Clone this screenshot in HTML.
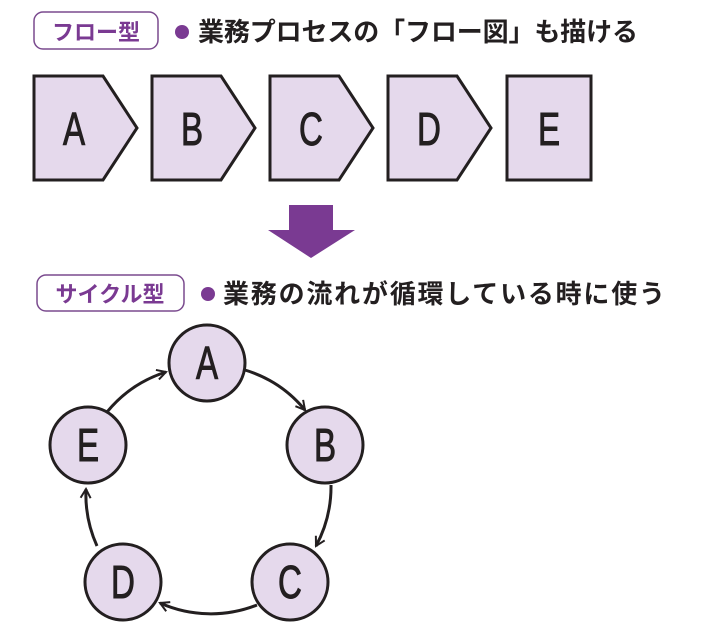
<!DOCTYPE html>
<html><head><meta charset="utf-8"><style>
body{margin:0;background:#fff;width:707px;height:632px;overflow:hidden;font-family:"Liberation Sans","Noto Sans CJK JP",sans-serif}
</style></head><body>
<svg width="707" height="632" xmlns="http://www.w3.org/2000/svg" font-family="Liberation Sans, Noto Sans CJK JP, sans-serif">
<defs>
<marker id="m" viewBox="0 0 12 12" refX="10" refY="6" markerWidth="12" markerHeight="12" markerUnits="userSpaceOnUse" orient="auto">
<path d="M1,1 L10,6 L1,11" fill="none" stroke="#231f20" stroke-width="2"/>
</marker>
</defs>
<rect x="34" y="12" width="124" height="37" rx="9" fill="#fff" stroke="#7a4a8e" stroke-width="1.5"/>
<text x="96" y="40" text-anchor="middle" font-size="22" font-weight="bold" fill="#7a3a92">フロー型</text>
<circle cx="182" cy="32" r="7" fill="#7a3a92"/>
<text x="198" y="41" font-size="26" font-weight="bold" fill="#231f20" textLength="440">業務プロセスの「フロー図」も描ける</text>
<g fill="#e5d9ec" stroke="#231f20" stroke-width="3">
<path d="M34,76 H103 L137,128 L103,180 H34 Z"/>
<path d="M152,76 H221 L255,128 L221,180 H152 Z"/>
<path d="M270,76 H339 L373,128 L339,180 H270 Z"/>
<path d="M388,76 H457 L491,128 L457,180 H388 Z"/>
<rect x="507" y="76" width="84" height="104"/>
</g>
<g font-size="46" fill="#231f20" text-anchor="middle" stroke="#231f20" stroke-width="1">
<text transform="translate(74,145) scale(0.72,1)">A</text>
<text transform="translate(192,145) scale(0.72,1)">B</text>
<text transform="translate(311,145) scale(0.72,1)">C</text>
<text transform="translate(429,145) scale(0.72,1)">D</text>
<text transform="translate(549,145) scale(0.72,1)">E</text>
</g>
<path d="M289,205 H333 V230 H355 L311,258 L268,230 H289 Z" fill="#7a3a92"/>
<rect x="37" y="275" width="147" height="36" rx="9" fill="#fff" stroke="#7a4a8e" stroke-width="1.5"/>
<text x="110" y="302" text-anchor="middle" font-size="22" font-weight="bold" fill="#7a3a92">サイクル型</text>
<circle cx="208" cy="294" r="7" fill="#7a3a92"/>
<text x="223" y="303" font-size="26" font-weight="bold" fill="#231f20" textLength="442">業務の流れが循環している時に使う</text>
<g fill="none" stroke="#231f20" stroke-width="3" marker-end="url(#m)">
<path d="M245,370 A125,125 0 0 1 305,410"/>
<path d="M331,485 A125,125 0 0 1 316,546"/>
<path d="M257,605 A125,125 0 0 1 160,603"/>
<path d="M97,546 A125,125 0 0 1 86,489"/>
<path d="M107,412 A125,125 0 0 1 166,372"/>
</g>
<g fill="#e5d9ec" stroke="#231f20" stroke-width="3">
<circle cx="207" cy="363" r="38"/><circle cx="325" cy="445" r="38"/><circle cx="290" cy="582" r="38"/><circle cx="123" cy="582" r="38"/><circle cx="88" cy="445" r="38"/>
</g>
<g font-size="46" fill="#231f20" text-anchor="middle" stroke="#231f20" stroke-width="1">
<text transform="translate(207,379) scale(0.72,1)">A</text>
<text transform="translate(325,461) scale(0.72,1)">B</text>
<text transform="translate(290,598) scale(0.72,1)">C</text>
<text transform="translate(123,598) scale(0.72,1)">D</text>
<text transform="translate(88,461) scale(0.72,1)">E</text>
</g>
</svg>
</body></html>
